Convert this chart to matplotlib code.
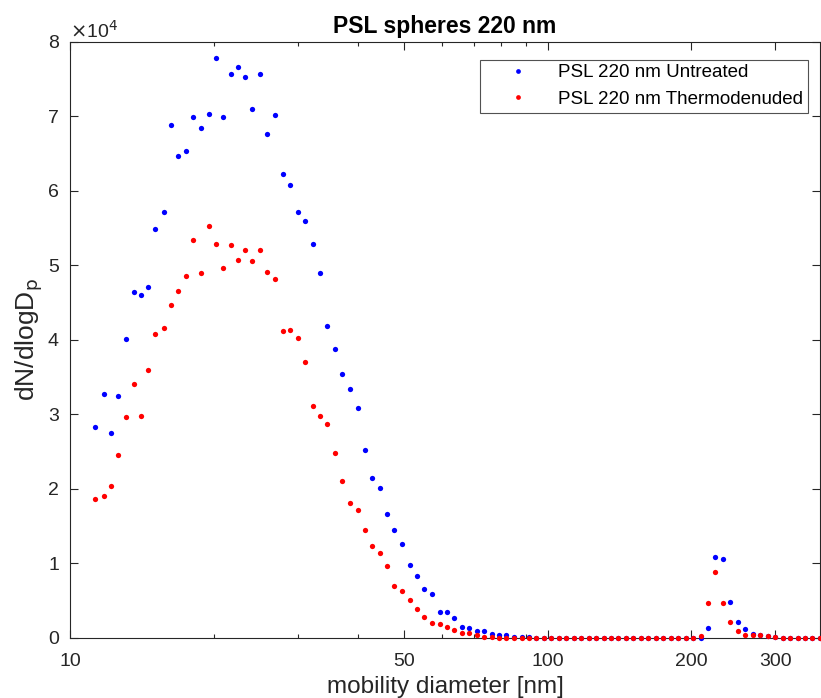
import matplotlib
matplotlib.use("Agg")
import matplotlib.pyplot as plt
from matplotlib.ticker import FixedLocator, FuncFormatter, NullFormatter

plt.rcParams['font.family'] = ['Liberation Sans', 'DejaVu Sans']

# SMPS channel mid-point diameters [nm]
diameter = [11.3, 11.8, 12.2, 12.6, 13.1, 13.6, 14.1, 14.6, 15.1, 15.7,
            16.3, 16.8, 17.5, 18.1, 18.8, 19.5, 20.2, 20.9, 21.7, 22.5,
            23.3, 24.1, 25.0, 25.9, 26.9, 27.9, 28.9, 30.0, 31.1, 32.2,
            33.4, 34.6, 35.9, 37.2, 38.5, 40.0, 41.4, 42.9, 44.5, 46.1,
            47.8, 49.6, 51.4, 53.3, 55.2, 57.3, 59.4, 61.5, 63.8, 66.1,
            68.5, 71.0, 73.7, 76.4, 79.1, 82.0, 85.1, 88.2, 91.4, 94.7,
            98.2, 101.8, 105.5, 109.4, 113.4, 117.6, 121.9, 126.3, 131.0, 135.8,
            140.7, 145.9, 151.2, 156.8, 162.5, 168.5, 174.7, 181.1, 187.7, 194.6,
            201.7, 209.1, 216.7, 224.7, 232.9, 241.4, 250.3, 259.5, 269.0, 278.8,
            289.0, 299.6, 310.6, 322.0, 333.8, 346.0, 358.7, 371.8]

# dN/dlogDp in units of 1e4
untreated = [2.83, 3.27, 2.75, 3.24, 4.01, 4.64, 4.60, 4.71, 5.48, 5.72,
             6.88, 6.47, 6.53, 6.99, 6.84, 7.03, 7.78, 6.99, 7.56, 7.66,
             7.52, 7.10, 7.56, 6.76, 7.02, 6.22, 6.08, 5.71, 5.59, 5.29,
             4.89, 4.19, 3.88, 3.54, 3.34, 3.08, 2.52, 2.14, 2.01, 1.66,
             1.45, 1.26, 0.98, 0.83, 0.66, 0.59, 0.35, 0.34, 0.27, 0.14,
             0.13, 0.085, 0.085, 0.05, 0.04, 0.03, 0.013, 0.005, 0.003, 0.0,
             0.0, 0.0, 0.0, 0.0, 0.0, 0.0, 0.0, 0.0, 0.0, 0.0,
             0.0, 0.0, 0.0, 0.0, 0.0, 0.0, 0.0, 0.0, 0.0, 0.0,
             0.0, 0.0, 0.13, 1.08, 1.05, 0.48, 0.21, 0.12, 0.05, 0.03,
             0.02, 0.01, 0.0, 0.0, 0.0, 0.0, 0.0, 0.0]

thermodenuded = [1.86, 1.90, 2.04, 2.45, 2.96, 3.40, 2.98, 3.60, 4.07, 4.16,
                 4.47, 4.66, 4.86, 5.34, 4.90, 5.53, 5.28, 4.96, 5.27, 5.07,
                 5.21, 5.06, 5.21, 4.91, 4.82, 4.12, 4.13, 4.02, 3.70, 3.11,
                 2.98, 2.87, 2.48, 2.10, 1.81, 1.71, 1.45, 1.23, 1.14, 0.96,
                 0.69, 0.63, 0.51, 0.39, 0.28, 0.20, 0.18, 0.14, 0.10, 0.06,
                 0.06, 0.03, 0.013, 0.005, 0.0, 0.0, 0.0, 0.0, 0.0, 0.0,
                 0.0, 0.0, 0.0, 0.0, 0.0, 0.0, 0.0, 0.0, 0.0, 0.0,
                 0.0, 0.0, 0.0, 0.0, 0.0, 0.0, 0.0, 0.0, 0.0, 0.0,
                 0.0, 0.02, 0.46, 0.88, 0.47, 0.21, 0.09, 0.04, 0.03, 0.03,
                 0.02, 0.01, 0.0, 0.0, 0.0, 0.0, 0.0, 0.0]

scale = 1e4
major_x = [10, 50, 100, 200, 300]
minor_x = [20, 30, 40, 60, 70, 80, 90, 400]
y_ticks = [0, 1, 2, 3, 4, 5, 6, 7, 8]

txt = '#262626'
fig = plt.figure(figsize=(8.21, 6.98), dpi=100)
ax = fig.add_axes([70/821, 1 - 637.7/698, 750/821, (637.7 - 41.7)/698])

ax.plot(diameter, [v * scale for v in untreated], 'o', color='#0000ff',
        ms=3.8, mec='none', label='PSL 220 nm Untreated', clip_on=False, zorder=3)
ax.plot(diameter, [v * scale for v in thermodenuded], 'o', color='#ff0000',
        ms=3.8, mec='none', label='PSL 220 nm Thermodenuded', clip_on=False, zorder=3)

ax.set_xscale('log')
ax.set_xlim(10, 372)
ax.set_ylim(0, 8 * scale)
ax.xaxis.set_major_locator(FixedLocator(major_x))
ax.xaxis.set_major_formatter(FuncFormatter(lambda v, p: f"{v:g}"))
ax.xaxis.set_minor_locator(FixedLocator(minor_x))
ax.xaxis.set_minor_formatter(NullFormatter())
ax.yaxis.set_major_locator(FixedLocator([t * scale for t in y_ticks]))
ax.yaxis.set_major_formatter(FuncFormatter(lambda v, p: f"{v/scale:g}"))

ax.tick_params(which='both', direction='in', top=True, right=True,
               colors=txt, labelsize=14, width=0.8)
ax.tick_params(which='major', length=6)
ax.tick_params(which='minor', length=3)
ax.tick_params(axis='x', which='major', pad=11)
ax.tick_params(axis='y', which='major', pad=8)
for s in ax.spines.values():
    s.set_color(txt)
    s.set_linewidth(0.8)

ax.set_title('PSL spheres 220 nm', fontsize=16.5, fontweight='bold', color='black', pad=6)
ax.set_xlabel('mobility diameter [nm]', fontsize=17.5, color=txt, labelpad=4)
ax.set_ylabel('dN/dlogD$_\\mathrm{p}$', fontsize=19, color=txt, labelpad=2)
ax.text(0.0, 1.0, '$\\times$10$^4$', transform=ax.transAxes, fontsize=14,
        color=txt, ha='left', va='bottom')

leg = ax.legend(loc='upper right', bbox_to_anchor=(0.984, 0.970), borderaxespad=0,
                fontsize=13.5, frameon=True, fancybox=False, edgecolor=txt,
                handletextpad=0.36, handlelength=3.55, borderpad=0.25,
                labelspacing=0.5, markerscale=0.9)
leg.get_frame().set_linewidth(0.8)
for t in leg.get_texts():
    t.set_color('black')

fig.savefig('out.png', dpi=100)
